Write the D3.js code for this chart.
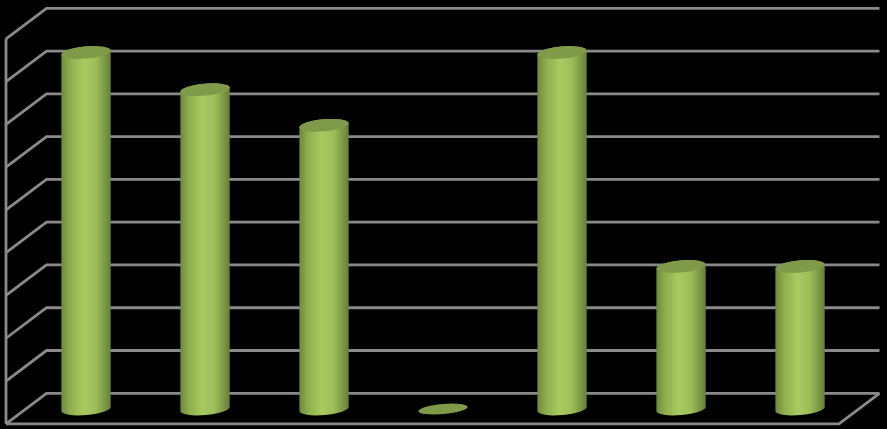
<!DOCTYPE html>
<html>
<head>
<meta charset="utf-8">
<script src="https://cdn.jsdelivr.net/npm/d3@7"></script>
<style>
  html, body { margin: 0; padding: 0; background: #000; overflow: hidden; }
  svg { display: block; }
</style>
</head>
<body>
<script>
// values, the chart has no visible labels
var categories = ["1", "2", "3", "4", "5", "6", "7"];
var values = [25, 22.4, 19.9, 0, 25, 10, 10];
var gridValues = [0, 3, 6, 9, 12, 15, 18, 21, 24, 27];

var svgWidth = 887;
var svgHeight = 429;

// back wall of the 3d box and how far the front sits from it
var back = { left: 46.5, right: 879.5, top: 8.3, bottom: 393.3 };
var depth = { x: -40.5, y: 30.5 };

var barWidth = 49.5;
var tilt = -5;
var ry = 6;

var svg = d3.select("body")
    .append("svg")
    .attr("width", svgWidth)
    .attr("height", svgHeight);

var y = d3.scaleLinear()
    .domain([0, 27])
    .range([back.bottom, back.top]);

// bars stand half way into the depth of the floor
var x = d3.scaleBand()
    .domain(categories)
    .range([back.left + depth.x / 2, back.right + depth.x / 2]);

var defs = svg.append("defs");

var barGradient = defs.append("linearGradient")
    .attr("id", "barFill")
    .attr("x1", "0%").attr("x2", "100%")
    .attr("y1", "0%").attr("y2", "0%");

[["0%", "#6f8a3b"], ["18%", "#8fae4e"], ["45%", "#a9ca60"],
 ["70%", "#9dbd58"], ["100%", "#64803a"]].forEach(function(s) {
    barGradient.append("stop").attr("offset", s[0]).attr("stop-color", s[1]);
});

// the reference is a soft jpeg, keep edges a little blurred
defs.append("filter")
    .attr("id", "soft")
    .append("feGaussianBlur")
    .attr("stdDeviation", 0.4);

var chart = svg.append("g").attr("filter", "url(#soft)");

var grid = chart.append("g")
    .attr("fill", "none")
    .attr("stroke", "#8a8a8a")
    .attr("stroke-width", 2.8);

// lines on the back wall and the side wall
grid.selectAll(".gridLine")
    .data(gridValues)
    .enter()
    .append("path")
    .attr("class", "gridLine")
    .attr("d", function(d) {
        return "M" + (back.left + depth.x) + "," + (y(d) + depth.y) +
            "L" + back.left + "," + y(d) +
            "L" + back.right + "," + y(d);
    });

// front edge of the side wall
grid.append("line")
    .attr("x1", back.left + depth.x)
    .attr("x2", back.left + depth.x)
    .attr("y1", y(27) + depth.y)
    .attr("y2", y(0) + depth.y);

// floor
grid.append("path")
    .attr("d", "M" + (back.left + depth.x) + "," + (y(0) + depth.y) +
        "L" + (back.right + depth.x) + "," + (y(0) + depth.y) +
        "L" + back.right + "," + y(0));

var rad = tilt * Math.PI / 180;
var dx = barWidth / 2 * Math.cos(rad);
var dy = barWidth / 2 * Math.sin(rad);
var rx = barWidth / 2;
var baseY = y(0) + depth.y / 2 + 0.5;

var bars = chart.selectAll(".bar")
    .data(values)
    .enter()
    .append("g")
    .attr("class", "bar")
    .attr("transform", function(d, i) {
        return "translate(" + (x(categories[i]) + x.bandwidth() / 2 + 0.3) + ",0)";
    });

// cylinder body, skipped for the empty bar
bars.filter(function(d) { return d > 0; })
    .append("path")
    .attr("fill", "url(#barFill)")
    .attr("d", function(d) {
        var top = baseY - (y(0) - y(d));
        return "M" + (-dx) + "," + (top - dy) +
            "L" + (-dx) + "," + (baseY - dy) +
            "A" + rx + "," + ry + " " + tilt + " 0 0 " + dx + "," + (baseY + dy) +
            "L" + dx + "," + (top + dy) +
            "A" + rx + "," + ry + " " + tilt + " 0 0 " + (-dx) + "," + (top - dy) + "Z";
    });

// cylinder top, flatter when the bar is empty
bars.append("ellipse")
    .attr("rx", rx)
    .attr("ry", function(d) { return d > 0 ? ry : 5; })
    .attr("fill", "#7f9a48")
    .attr("transform", function(d) {
        return "translate(0," + (baseY - (y(0) - y(d))) + ") rotate(" + tilt + ")";
    });
</script>
</body>
</html>
